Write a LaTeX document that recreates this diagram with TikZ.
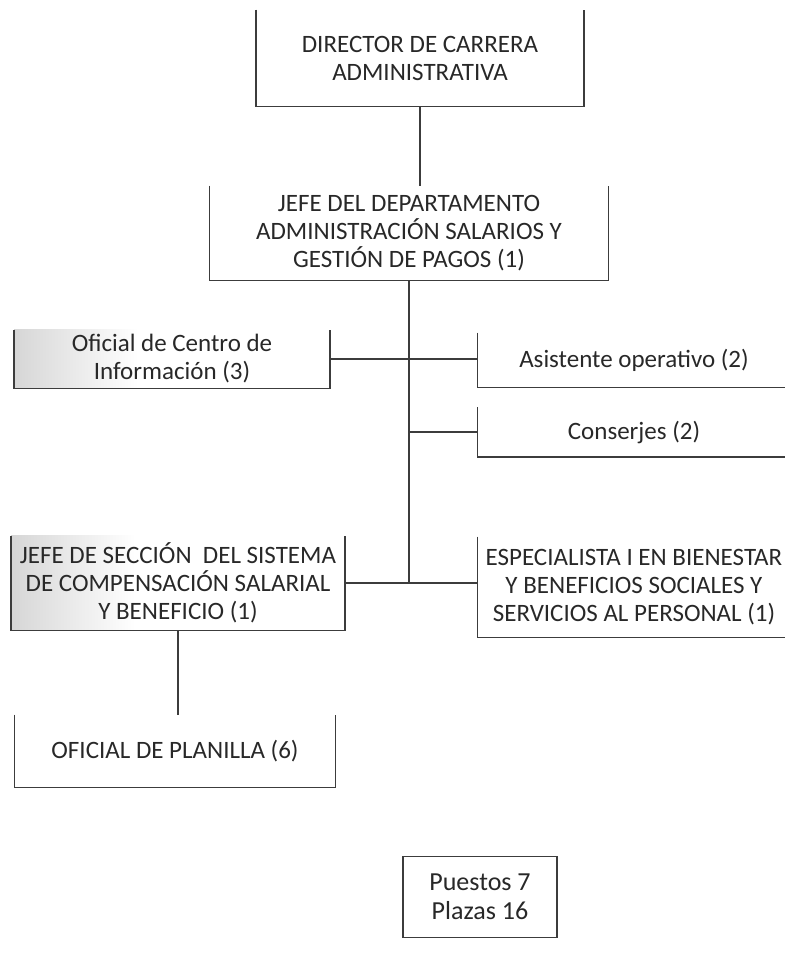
\documentclass[tikz,border=0pt]{standalone}
\usepackage{fontspec}
\setmainfont{Carlito}
\usetikzlibrary{positioning, backgrounds}
\definecolor{orgline}{RGB}{60,60,60}
\definecolor{orgtext}{RGB}{40,40,40}

\begin{document}
\begin{tikzpicture}[
    x=0.5pt, y=-0.5pt,
    %% ── node styles ──────────────────────────────────────────────────────────
    puesto/.style={
        draw=none, align=center, inner sep=0pt,
        text=orgtext, font=\fontsize{12.5}{14}\selectfont
    },
    resumen/.style={
        draw=orgline, line width=0.9pt, align=center, inner sep=0pt,
        text=orgtext, font=\fontsize{13}{14.5}\selectfont
    },
    %% ── line styles ──────────────────────────────────────────────────────────
    borde/.style={draw=orgline, line width=0.8pt},
    enlace/.style={draw=orgline, line width=0.6pt},
    sombra/.style={left color=black!16, right color=white},
]
\useasboundingbox (0,0) rectangle (784,958);

%% ── Top of the chart ────────────────────────────────────────────────────────
\node[puesto, minimum width=327*0.5pt, minimum height=96*0.5pt]
    (dir) at (420,58) {DIRECTOR DE CARRERA\\ADMINISTRATIVA};
\node[puesto, minimum width=398*0.5pt, minimum height=94*0.5pt]
    (jefe) at (409,233) {JEFE DEL DEPARTAMENTO\\ADMINISTRACIÓN SALARIOS Y\\GESTIÓN DE PAGOS (1)};

%% ── Left column ─────────────────────────────────────────────────────────────
\node[puesto, minimum width=315*0.5pt, minimum height=58*0.5pt]
    (ofc) at (172,359) {Oficial de Centro de\\Información (3)};
\node[puesto, minimum width=333*0.5pt, minimum height=94*0.5pt]
    (jsec) at (178,583) {JEFE DE SECCIÓN\ \ DEL SISTEMA\\DE COMPENSACIÓN SALARIAL\\Y BENEFICIO (1)};
\node[puesto, minimum width=320*0.5pt, minimum height=72*0.5pt]
    (plan) at (175,751) {OFICIAL DE PLANILLA (6)};

%% ── Right column (boxes run past the page edge) ────────────────────────────
\node[puesto, minimum width=312*0.5pt, minimum height=54*0.5pt]
    (asis) at (634,360) {Asistente operativo (2)};
\node[puesto, minimum width=312*0.5pt, minimum height=49*0.5pt]
    (cons) at (634,432) {Conserjes (2)};
\node[puesto, minimum width=312*0.5pt, minimum height=100*0.5pt]
    (esp) at (634,587) {ESPECIALISTA I EN BIENESTAR\\Y BENEFICIOS SOCIALES Y\\SERVICIOS AL PERSONAL (1)};

%% ── Totals ──────────────────────────────────────────────────────────────────
\node[resumen, minimum width=154*0.5pt, minimum height=81*0.5pt]
    (total) at (480,897) {Puestos 7\\Plazas 16};

%% ── Grey scan shading on the left boxes ────────────────────────────────────
\begin{scope}[on background layer]
  \fill[sombra] (ofc.north west) rectangle ([xshift=62pt]ofc.south west);
  \fill[sombra] (jsec.north west) rectangle ([xshift=62pt]jsec.south west);
\end{scope}

%% ── Box outlines (the top edges do not show) ───────────────────────────────
\foreach \n in {dir,jefe,ofc,asis,cons,jsec,esp,plan}
    \draw[borde] (\n.north west) |- (\n.south east) -- (\n.north east);

%% ── Connectors ──────────────────────────────────────────────────────────────
\draw[enlace] (dir.south) -- (dir.south |- jefe.north);
\draw[enlace] (jefe.south) -- (jefe.south |- jsec.east);
\draw[enlace] (ofc.east) -- (ofc.east -| asis.west);
\draw[enlace] (jefe.south |- cons.west) -- (cons.west);
\draw[enlace] (jsec.east) -- (jsec.east -| esp.west);
\draw[enlace] (jsec.south) -- (jsec.south |- plan.north);

\end{tikzpicture}
\end{document}
